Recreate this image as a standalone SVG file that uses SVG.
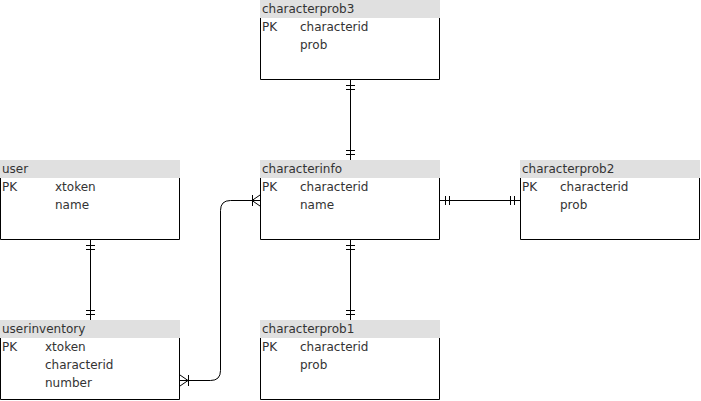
<svg xmlns="http://www.w3.org/2000/svg" width="701" height="401" viewBox="0 0 701 401">
<style>
.hd{fill:#e0e0e0;stroke:none}
.bd{fill:#ffffff;stroke:#000;stroke-width:1}
.t{font-family:"DejaVu Sans",sans-serif;font-size:12px;fill:#333333}
.c{fill:none;stroke:#000;stroke-width:1}
</style>
<rect width="701" height="401" fill="#ffffff"/>
<g id="characterprob3">
<rect class="hd" x="260" y="0" width="180" height="18"/>
<path class="bd" d="M260.5,18 V79.5 H439.5 V18"/>
<text class="t" x="262" y="12.5">characterprob3</text>
<text class="t" x="262" y="30.5">PK</text>
<text class="t" x="300" y="30.5">characterid</text>
<text class="t" x="300" y="48.5">prob</text>
</g>
<g id="user">
<rect class="hd" x="0" y="160" width="180" height="18"/>
<path class="bd" d="M0.5,178 V239.5 H179.5 V178"/>
<text class="t" x="2" y="172.5">user</text>
<text class="t" x="2" y="190.5">PK</text>
<text class="t" x="55" y="190.5">xtoken</text>
<text class="t" x="55" y="208.5">name</text>
</g>
<g id="characterinfo">
<rect class="hd" x="260" y="160" width="180" height="18"/>
<path class="bd" d="M260.5,178 V239.5 H439.5 V178"/>
<text class="t" x="262" y="172.5">characterinfo</text>
<text class="t" x="262" y="190.5">PK</text>
<text class="t" x="300" y="190.5">characterid</text>
<text class="t" x="300" y="208.5">name</text>
</g>
<g id="characterprob2">
<rect class="hd" x="520" y="160" width="180" height="18"/>
<path class="bd" d="M520.5,178 V239.5 H699.5 V178"/>
<text class="t" x="522" y="172.5">characterprob2</text>
<text class="t" x="522" y="190.5">PK</text>
<text class="t" x="560" y="190.5">characterid</text>
<text class="t" x="560" y="208.5">prob</text>
</g>
<g id="userinventory">
<rect class="hd" x="0" y="320" width="180" height="18"/>
<path class="bd" d="M0.5,338 V399.5 H179.5 V338"/>
<text class="t" x="2" y="332.5">userinventory</text>
<text class="t" x="2" y="350.5">PK</text>
<text class="t" x="45" y="350.5">xtoken</text>
<text class="t" x="45" y="368.5">characterid</text>
<text class="t" x="45" y="386.5">number</text>
</g>
<g id="characterprob1">
<rect class="hd" x="260" y="320" width="180" height="18"/>
<path class="bd" d="M260.5,338 V399.5 H439.5 V338"/>
<text class="t" x="262" y="332.5">characterprob1</text>
<text class="t" x="262" y="350.5">PK</text>
<text class="t" x="300" y="350.5">characterid</text>
<text class="t" x="300" y="368.5">prob</text>
</g>
<g id="connectors">
<path class="c" d="M350.5,80 V160 M346,85.5 H355 M346,89.5 H355 M346,150.5 H355 M346,154.5 H355"/>
<path class="c" d="M90.5,240 V320 M86,245.5 H95 M86,249.5 H95 M86,310.5 H95 M86,314.5 H95"/>
<path class="c" d="M350.5,240 V320 M346,245.5 H355 M346,249.5 H355 M346,310.5 H355 M346,314.5 H355"/>
<path class="c" d="M440,200.5 H520 M445.5,196 V205 M449.5,196 V205 M510.5,196 V205 M514.5,196 V205"/>
<path class="c" d="M180,380.5 H210.5 Q220.5,380.5 220.5,370.5 V210.5 Q220.5,200.5 230.5,200.5 H260"/>
<path class="c" d="M260,195 L252,200.5 L260,206 M252.5,195 V206"/>
<path class="c" d="M180,375 L188,380.5 L180,386 M188.5,375 V386"/>
</g>
</svg>
